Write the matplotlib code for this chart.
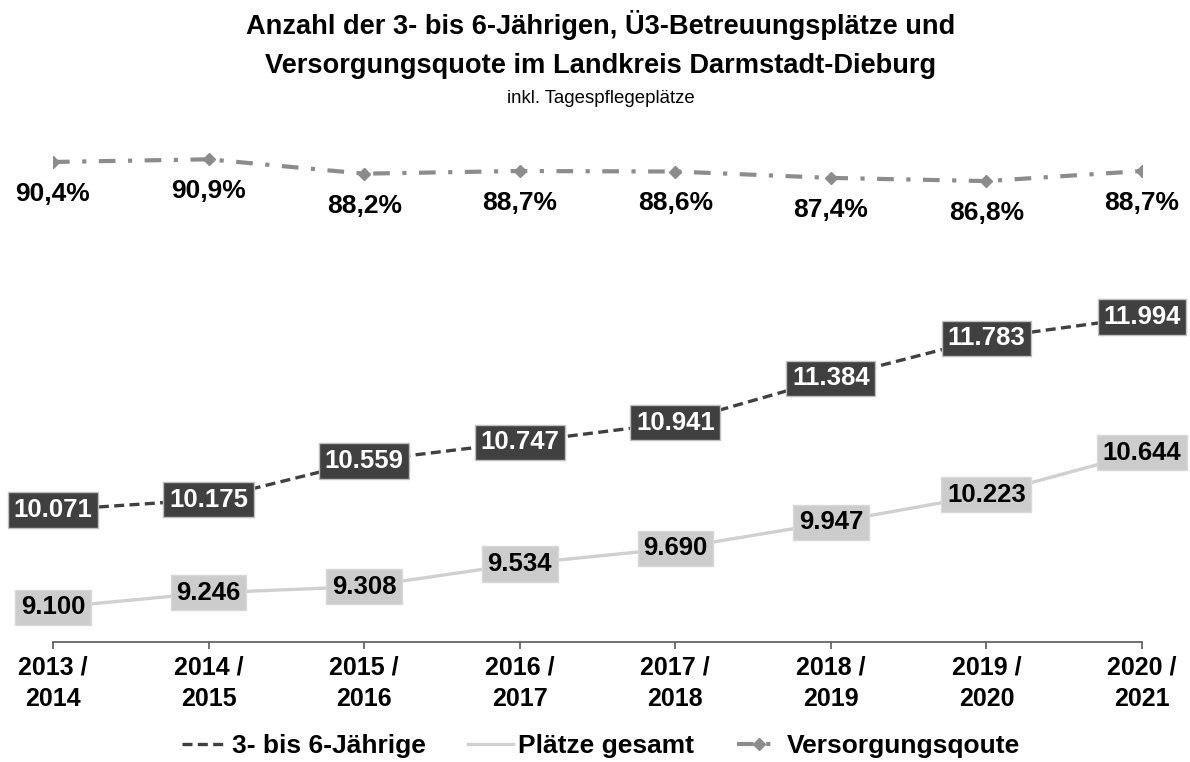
import matplotlib
matplotlib.use('Agg')
import matplotlib.pyplot as plt
from matplotlib.lines import Line2D

years = ['2013 /\n2014', '2014 /\n2015', '2015 /\n2016', '2016 /\n2017',
         '2017 /\n2018', '2018 /\n2019', '2019 /\n2020', '2020 /\n2021']
kinder = [10071, 10175, 10559, 10747, 10941, 11384, 11783, 11994]
plaetze = [9100, 9246, 9308, 9534, 9690, 9947, 10223, 10644]
quote = [90.4, 90.9, 88.2, 88.7, 88.6, 87.4, 86.8, 88.7]

plt.rcParams['font.family'] = ['Liberation Sans', 'DejaVu Sans']

dark = '#404040'
light = '#d0d0d0'
grey = '#8c8c8c'

fig = plt.figure(figsize=(11.9, 7.62), dpi=100)
ax = fig.add_axes([53 / 1190, 1 - 642 / 762, 1089 / 1190, 531 / 762])
ax2 = ax.twinx()

x = list(range(len(years)))

ax.plot(x, kinder, color=dark, lw=2.4, ls=(0, (3, 1.6)), zorder=3)
ax.plot(x, plaetze, color=light, lw=2.4, zorder=3)
ax2.plot(x, quote, color=grey, lw=3, ls=(0, (4, 3, 1, 3)), marker='D', ms=6,
         zorder=3)

ax.set_xlim(0, 7)
ax.set_ylim(8756, 14047)
ax2.set_ylim(0, 100)

# Datenbeschriftungen
for xi, v in zip(x, kinder):
    ax.text(xi, v, f'{v:,}'.replace(',', '.'), ha='center', va='center',
            fontsize=18.5, fontweight='bold', color='white', zorder=5,
            bbox=dict(boxstyle='square,pad=0.22', fc=dark, ec='#bfbfbf', lw=1))
for xi, v in zip(x, plaetze):
    ax.text(xi, v, f'{v:,}'.replace(',', '.'), ha='center', va='center',
            fontsize=18.5, fontweight='bold', color='black', zorder=5,
            bbox=dict(boxstyle='square,pad=0.22', fc='#cccccc', ec='#d9d9d9', lw=1))
for xi, v in zip(x, quote):
    ax2.annotate(f'{v:.1f}%'.replace('.', ','), (xi, v), xytext=(0, -23),
                 textcoords='offset points', ha='center', va='center',
                 fontsize=19, fontweight='bold', color='black')

for s in ['top', 'right', 'left']:
    ax.spines[s].set_visible(False)
    ax2.spines[s].set_visible(False)
ax2.spines['bottom'].set_visible(False)
ax.spines['bottom'].set_color('#595959')
ax.spines['bottom'].set_linewidth(1.2)

ax.set_xticks(x)
ax.set_xticklabels(years, fontsize=18, fontweight='bold', linespacing=1.35)
ax.tick_params(axis='x', length=5, width=1.2, color='#595959', pad=5)
ax.set_yticks([])
ax2.set_yticks([])

fig.text(0.505, 0.967, 'Anzahl der 3- bis 6-Jährigen, Ü3-Betreuungsplätze und',
         ha='center', va='center', fontsize=19.6, fontweight='bold')
fig.text(0.505, 0.914, 'Versorgungsquote im Landkreis Darmstadt-Dieburg',
         ha='center', va='center', fontsize=19.6, fontweight='bold')
fig.text(0.505, 0.871, 'inkl. Tagespflegeplätze', ha='center', va='center',
         fontsize=13.4)

handles = [
    Line2D([], [], color=dark, lw=2.4, ls=(0, (3, 1.6))),
    Line2D([], [], color=light, lw=2.4),
    Line2D([], [], color=grey, lw=3, ls=(0, (4, 3, 1, 3)), marker='D', ms=6),
]
labels = ['3- bis 6-Jährige', 'Plätze gesamt', 'Versorgungsqoute']
fig.legend(handles, labels, loc='center', bbox_to_anchor=(0.505, 0.021), ncol=3,
           frameon=False, prop=dict(size=19, weight='bold'), handlelength=1.7,
           handletextpad=0.2, columnspacing=1.6, borderaxespad=0)

fig.savefig('out.png', dpi=100)
